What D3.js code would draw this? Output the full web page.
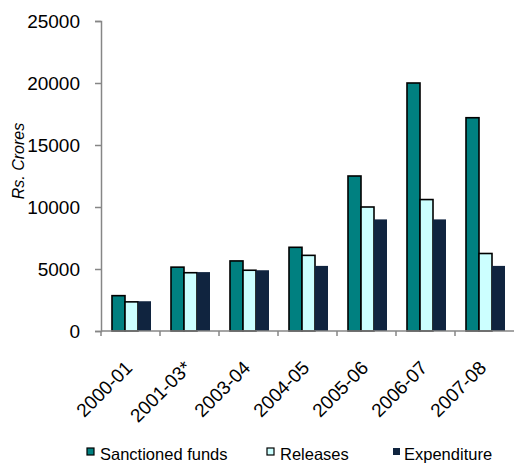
<!DOCTYPE html>
<html>
<head>
<meta charset="utf-8">
<script src="https://cdn.jsdelivr.net/npm/d3@7"></script>
<style>
  html, body { margin: 0; padding: 0; background: #fff; }
  svg { display: block; font-family: "Liberation Sans", Arial, sans-serif; }
</style>
</head>
<body>
<svg id="chart" width="514" height="464"></svg>
<script>
// Fiscal years on the x axis
const years = ["2000-01", "2001-03*", "2003-04", "2004-05", "2005-06", "2006-07", "2007-08"];

// Amounts in Rs. crores
const sanctioned = [2850, 5150, 5650, 6750, 12500, 20000, 17200];
const releases = [2350, 4700, 4900, 6100, 10000, 10600, 6250];
const expenditure = [2400, 4750, 4900, 5250, 9000, 9000, 5250];

const seriesNames = ["Sanctioned funds", "Releases", "Expenditure"];
const yTicks = [0, 5000, 10000, 15000, 20000, 25000];

const colors = ["#008080", "#CCFFFF", "#10243F"];
const strokes = ["#000", "#000", "none"];

const svg = d3.select("#chart");
const margin = { left: 101, right: 0, top: 21, bottom: 133 };
const W = 514, H = 464;

const x = d3.scaleBand().domain(years).range([margin.left, W]).paddingInner(0).paddingOuter(0);
const y = d3.scaleLinear().domain([0, 25000]).range([H - margin.bottom, margin.top]);
const inner = d3.scaleBand().domain(seriesNames).range([11, x.bandwidth() - 9]);

const seriesData = [sanctioned, releases, expenditure];

// Bars
seriesData.forEach((vals, si) => {
  svg.append("g").selectAll("rect")
    .data(vals)
    .join("rect")
    .attr("x", (d, i) => x(years[i]) + inner(seriesNames[si]))
    .attr("y", d => y(d))
    .attr("width", inner.bandwidth())
    .attr("height", d => y(0) - y(d))
    .attr("fill", colors[si])
    .attr("stroke", strokes[si])
    .attr("stroke-width", 1.6);
});

// Y axis
const yAxis = svg.append("g")
  .attr("transform", `translate(${margin.left},0)`)
  .call(d3.axisLeft(y).tickValues(yTicks).tickSize(6).tickPadding(15).tickFormat(d3.format("d")));
yAxis.select(".domain").attr("stroke", "#868686").attr("stroke-width", 1.5);
yAxis.selectAll(".tick line").attr("stroke", "#868686").attr("stroke-width", 1.5);
yAxis.selectAll(".tick text").attr("font-size", 19).attr("fill", "#000")
  .attr("font-family", "Liberation Sans, Arial, sans-serif");

// X axis: ticks at category boundaries
const xg = svg.append("g").attr("transform", `translate(0,${y(0)})`);
xg.append("line")
  .attr("x1", margin.left).attr("x2", W)
  .attr("stroke", "#868686").attr("stroke-width", 1.5);
xg.selectAll("line.bound")
  .data(years)
  .join("line")
  .attr("class", "bound")
  .attr("x1", d => x(d)).attr("x2", d => x(d))
  .attr("y1", 0).attr("y2", 5)
  .attr("stroke", "#868686").attr("stroke-width", 1.5);

// Rotated category labels
xg.selectAll("text.cat")
  .data(years)
  .join("text")
  .attr("class", "cat")
  .attr("transform", d => `translate(${x(d) + x.bandwidth() / 2 + 3},${38}) rotate(-45)`)
  .attr("text-anchor", "end")
  .attr("font-size", 19)
  .attr("fill", "#000")
  .text(d => d);

// Y axis title
svg.append("text")
  .attr("transform", `translate(24,161) rotate(-90)`)
  .attr("text-anchor", "middle")
  .attr("font-size", 16)
  .attr("font-style", "italic")
  .attr("fill", "#000")
  .text("Rs. Crores");

// Legend
const legendX = [87, 267, 393];
const legend = svg.append("g").selectAll("g")
  .data(seriesNames)
  .join("g")
  .attr("transform", (d, i) => `translate(${legendX[i]},0)`);
legend.append("rect")
  .attr("x", 0).attr("y", 448)
  .attr("width", 7).attr("height", 7)
  .attr("fill", (d, i) => colors[i])
  .attr("stroke", (d, i) => strokes[i])
  .attr("stroke-width", 1.2);
legend.append("text")
  .attr("x", (d, i) => i === 2 ? 11 : 13)
  .attr("y", 460)
  .attr("font-size", 16.5)
  .attr("fill", "#000")
  .text(d => d);
</script>
</body>
</html>
